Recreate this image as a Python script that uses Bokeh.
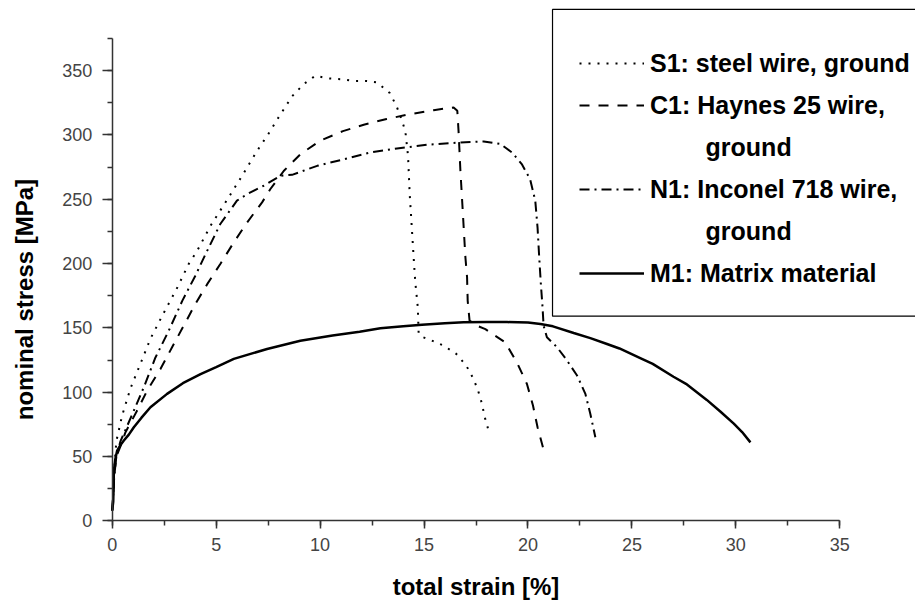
from bokeh.plotting import figure
from bokeh.models import (Range1d, SingleIntervalTicker, Legend, LegendItem, Label, BoxAnnotation)
from bokeh.embed import file_html
from bokeh.resources import INLINE

# ---- data ----
s1_strain = [0.0, 0.05, 0.1, 0.2, 0.48, 0.88, 1.33, 1.84, 2.45, 3.09, 3.68, 4.09, 4.73, 5.5,
             6.25, 6.97, 7.58, 7.93, 8.65, 9.21, 9.77, 10.4, 10.98, 11.6, 12.2, 12.74, 13.35,
             13.67, 13.9, 14.1, 14.23, 14.31, 14.42, 14.5, 14.58, 14.7, 14.74, 14.9, 15.3,
             15.94, 16.55, 17.03, 17.38, 17.6, 17.79, 17.9, 18.08]
s1_stress = [8, 20, 40, 62, 82, 103, 121, 141.6, 160.8, 180, 199.7, 210, 229.4, 248.9,
             268.3, 287.7, 302.5, 311.8, 330, 339.5, 346, 344, 343.4, 342, 342, 340.8, 332.6,
             322.7, 313, 303, 283.8, 254, 225.6, 204.8, 185.4, 166, 145.8, 143, 140.6,
             136.2, 129.8, 120.7, 110.3, 101.2, 90.9, 81.8, 71.5]

c1_strain = [0.0, 0.05, 0.1, 0.2, 0.4, 0.64, 1.2, 1.68, 2.32, 2.88, 3.44, 4.0, 4.57, 5.2,
             5.85, 6.49, 7.21, 7.61, 8.25, 9.05, 10.0, 11.1, 12.1, 13.2, 14.18, 15.46, 16.42,
             16.6, 16.66, 16.75, 16.87, 16.99, 17.07, 17.1, 17.19, 17.5, 17.95, 18.9, 19.47,
             19.95, 20.24, 20.46, 20.72]
c1_stress = [8, 20, 35, 50, 58, 68.9, 85.7, 101.2, 118, 134.9, 151.7, 168.6, 184, 199.7,
             216.5, 232, 247.6, 258, 272, 285, 295.5, 303, 308, 312.4, 315.7, 319.3, 321.4,
             318.8, 303, 272, 238.5, 204.8, 189.3, 171, 155.6, 152, 149, 138.8, 123,
             106.4, 89.6, 72.7, 57.2]

n1_strain = [0.0, 0.05, 0.1, 0.2, 0.4, 0.7, 1.04, 1.52, 2.08, 2.72, 3.37, 4.0, 4.48, 5.2,
             6.0, 6.49, 7.29, 8.09, 8.65, 9.86, 11.3, 12.42, 13.7, 15.14, 16.75, 17.87, 18.67,
             19.23, 19.7, 20.1, 20.35, 20.46, 20.54, 20.62, 20.7, 20.75, 20.91, 21.4, 21.88,
             22.36, 22.76, 23.0, 23.24]
n1_stress = [8, 20, 35, 50, 62, 73, 85.7, 103.8, 127, 147.8, 171, 190.6, 207, 230.8,
             248.9, 254, 260.5, 268.3, 269, 276, 281.7, 286.4, 289.5, 292.4, 294.2, 295, 293,
             286.4, 277.4, 265.7, 248.9, 228, 204.8, 184, 166, 151.7, 142.7, 134.9, 124.6,
             113, 98.7, 83, 65]

m1_strain = [0.0, 0.05, 0.08, 0.15, 0.24, 0.4, 0.56, 0.8, 1.04, 1.4, 1.84, 2.64, 3.4, 4.25,
             5.0, 5.85, 7.45, 9.05, 10.6, 11.9, 12.9, 14.0, 14.9, 16.0, 16.9, 18.0, 19.0, 20.0,
             20.6, 21.2, 22.2, 23.0, 23.8, 24.4, 25.4, 26.0, 27.0, 27.6, 28.6, 29.25, 29.9,
             30.3, 30.7]
m1_stress = [8, 15, 39, 48, 54.6, 59, 62.4, 67, 72.7, 80, 88.3, 98.7, 107, 114,
             119.5, 125.9, 133.6, 140, 144, 147, 149.7, 151.3, 152.5, 153.6, 154.3, 154.5, 154.5,
             154.2, 153, 151.2, 146, 142, 137.5, 134, 126.5, 122, 112, 106.5, 94, 85, 75.5,
             69, 61]

legend_labels = ["S1: steel wire, ground", "C1: Haynes 25 wire,", "ground",
                 "N1: Inconel 718 wire,", "ground", "M1: Matrix material"]
x_ticks_interval = 5
y_ticks_interval = 50
x_axis_bounds = (0, 35)
y_axis_bounds = (0, 375)

FONT = "Liberation Sans"

# The frame fills the whole canvas; axes sit at data 0 and are bounded to their ranges.
p = figure(width=915, height=600, output_backend="svg", toolbar_location=None, title=None,
           x_range=Range1d(-5.373, 38.64), y_range=Range1d(-61.97, 404.55),
           min_border_left=0, min_border_right=0, min_border_top=0, min_border_bottom=0)
p.grid.visible = False
p.outline_line_color = None
p.background_fill_color = "white"
p.border_fill_color = "white"

p.xaxis.ticker = SingleIntervalTicker(interval=x_ticks_interval, num_minor_ticks=2)
p.yaxis.ticker = SingleIntervalTicker(interval=y_ticks_interval, num_minor_ticks=2)
p.xaxis.bounds = x_axis_bounds
p.yaxis.bounds = y_axis_bounds
p.xaxis.fixed_location = 0
p.yaxis.fixed_location = 0
for ax in (p.xaxis, p.yaxis):
    ax.axis_line_color = "#333333"
    ax.axis_line_width = 1.5
    ax.major_tick_line_color = "#333333"
    ax.minor_tick_line_color = "#333333"
    ax.major_tick_line_width = 1.5
    ax.minor_tick_line_width = 1.5
    ax.major_tick_in = 0
    ax.minor_tick_in = 0
    ax.major_label_text_font = FONT
    ax.major_label_text_font_size = "18px"
    ax.major_label_text_color = "#444444"
p.xaxis.major_tick_out = 8
p.xaxis.minor_tick_out = 5
p.xaxis.major_label_standoff = 9
p.yaxis.major_tick_out = 10
p.yaxis.minor_tick_out = 5
p.yaxis.major_label_standoff = 10

r_s1 = p.line(s1_strain, s1_stress, line_color="black", line_width=2, line_dash="2 7")
r_c1 = p.line(c1_strain, c1_stress, line_color="black", line_width=2, line_dash="10 9")
r_n1 = p.line(n1_strain, n1_stress, line_color="black", line_width=2, line_dash="10 5 2 5")
r_m1 = p.line(m1_strain, m1_stress, line_color="black", line_width=2.5)
r_blank = p.line([], [], line_alpha=0)

indent = "\u00a0" * 8
items = [
    LegendItem(label=legend_labels[0], renderers=[r_s1]),
    LegendItem(label=legend_labels[1], renderers=[r_c1]),
    LegendItem(label=indent + legend_labels[2], renderers=[r_blank]),
    LegendItem(label=legend_labels[3], renderers=[r_n1]),
    LegendItem(label=indent + legend_labels[4], renderers=[r_blank]),
    LegendItem(label=legend_labels[5], renderers=[r_m1]),
]
legend = Legend(items=items, location=(552, 279), padding=26, spacing=0,
                label_height=42, glyph_height=42, glyph_width=65, label_standoff=6,
                label_text_font=FONT, label_text_font_size="25px",
                label_text_font_style="bold", label_text_color="black",
                border_line_color="white", border_line_alpha=0.01, border_line_width=1,
                background_fill_color="white", background_fill_alpha=0.0, margin=0)
p.add_layout(legend, "center")

# legend frame: it runs past the right edge of the picture, as in the reference
legend_frame = BoxAnnotation(left=21.18, right=45, bottom=159.1, top=397.6,
                             fill_color="white", fill_alpha=0, line_color="black",
                             line_alpha=1.0, line_width=1.2)
p.add_layout(legend_frame)

p.add_layout(Label(x=17.5, y=-51, text="total strain [%]", text_font=FONT,
                   text_font_size="24px", text_font_style="bold", text_color="black",
                   text_align="center", text_baseline="middle"))
p.add_layout(Label(x=-4.24, y=172, text="nominal stress [MPa]", text_font=FONT,
                   text_font_size="24px", text_font_style="bold", text_color="black",
                   text_align="center", text_baseline="middle", angle=1.5707963))

open("out.html", "w").write(file_html(p, INLINE))
